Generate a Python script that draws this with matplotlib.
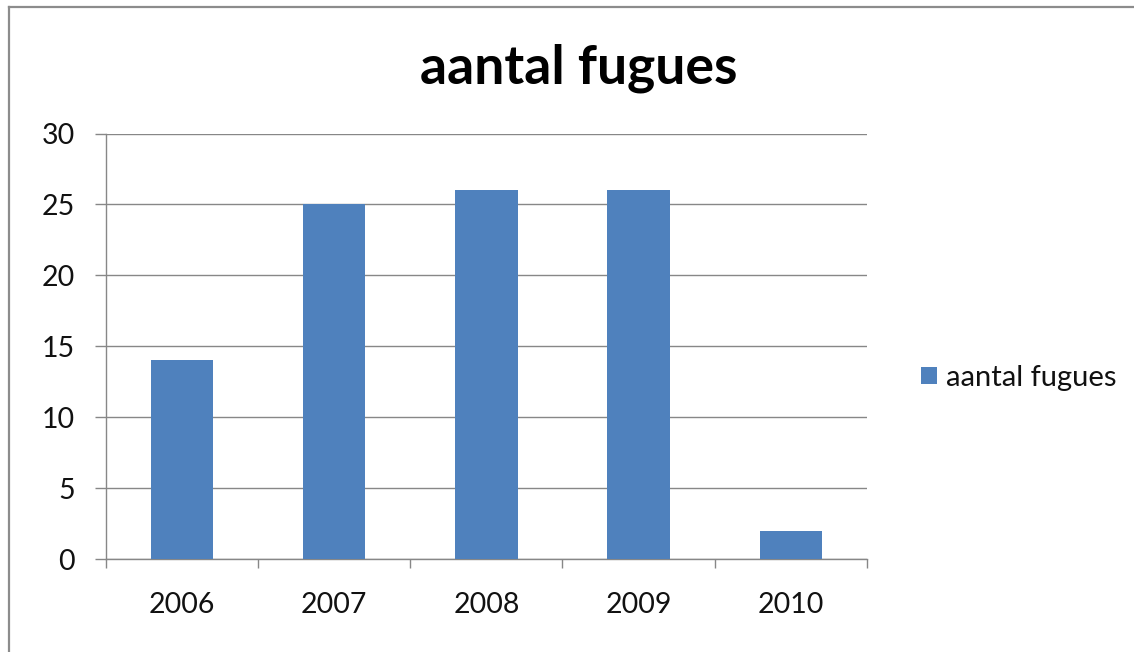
import matplotlib
matplotlib.use("Agg")
import matplotlib.pyplot as plt
from matplotlib.lines import Line2D

# Chart data
years = ["2006", "2007", "2008", "2009", "2010"]
fugues = [14, 25, 26, 26, 2]
y_ticks = [0, 5, 10, 15, 20, 25, 30]

BAR_COLOR = "#4F81BD"
LINE_COLOR = "#878787"
TEXT_COLOR = "#111111"

plt.rcParams["font.family"] = ["Lato", "DejaVu Sans"]

fig = plt.figure(figsize=(11.34, 6.52), dpi=100)
fig.patch.set_facecolor("white")

# outer chart frame: only left and top edges fall inside the image
fx = 8.5 / 1134
fy = 1 - 6.5 / 652
fig.add_artist(Line2D([fx, fx], [0, fy], transform=fig.transFigure,
                      color="#8c8c8c", linewidth=1.6))
fig.add_artist(Line2D([fx, 1.02], [fy, fy], transform=fig.transFigure,
                      color="#8c8c8c", linewidth=1.6))

ax = fig.add_axes([105.7 / 1134, 1 - 559 / 652, (867 - 105.7) / 1134, (559 - 133.5) / 652])

x = list(range(len(years)))
ax.bar(x, fugues, width=0.41, color=BAR_COLOR, label="aantal fugues", zorder=3)

ax.set_xlim(-0.5, len(years) - 0.5)
ax.set_ylim(0, 30)
ax.set_yticks(y_ticks)
ax.set_xticks(x)
ax.set_xticklabels(years)
ax.set_xticks([i - 0.5 for i in range(len(years) + 1)], minor=True)

ax.tick_params(axis="x", which="major", length=0, pad=24, labelsize=20.5, colors=TEXT_COLOR)
ax.tick_params(axis="x", which="minor", length=6.5, width=1, color=LINE_COLOR, direction="out")
ax.tick_params(axis="y", length=8, width=1, color=LINE_COLOR, pad=14, labelsize=20.5,
               labelcolor=TEXT_COLOR, direction="out")

ax.yaxis.grid(True, color=LINE_COLOR, linewidth=1, zorder=0)
ax.set_axisbelow(True)
for side in ["top", "right"]:
    ax.spines[side].set_visible(False)
for side in ["left", "bottom"]:
    ax.spines[side].set_color(LINE_COLOR)
    ax.spines[side].set_linewidth(1)

fig.text(579 / 1134, 1 - 68 / 652, "aantal fugues", ha="center", va="center",
         fontsize=38.5, fontweight="bold", color="black")

ax.legend(loc="center left", bbox_to_anchor=(895 / 1134, 1 - 378 / 652),
          bbox_transform=fig.transFigure, frameon=False, fontsize=21,
          handlelength=0.55, handleheight=0.55, handletextpad=0.3,
          labelcolor=TEXT_COLOR)

fig.savefig("out.png", dpi=100)
